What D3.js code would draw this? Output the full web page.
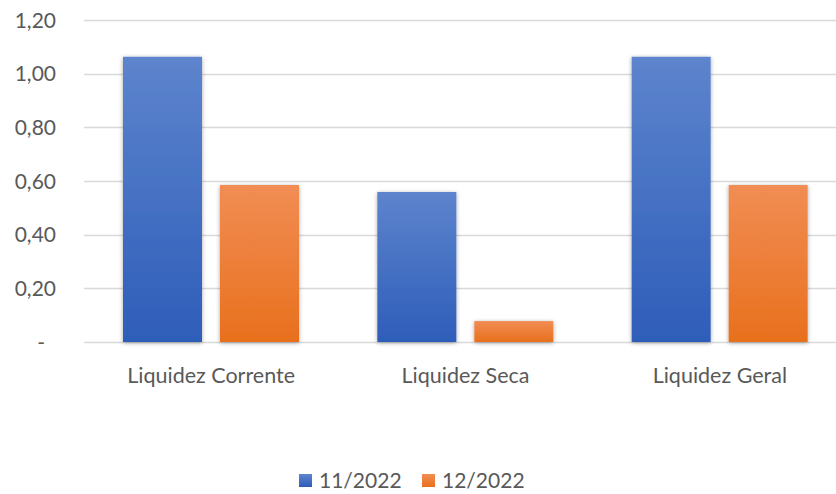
<!DOCTYPE html>
<html><head><meta charset="utf-8">
<script src="https://cdn.jsdelivr.net/npm/d3@7"></script>
<style>body{margin:0;background:#fff}svg{display:block}</style>
</head><body><svg id="c" width="836" height="494"></svg>
<script>
const categories = ["Liquidez Corrente", "Liquidez Seca", "Liquidez Geral"];
const seriesNames = ["11/2022", "12/2022"];
const values2022_11 = [1.063, 0.559, 1.063];
const values2022_12 = [0.585, 0.078, 0.585];
const yTicks = [0, 0.2, 0.4, 0.6, 0.8, 1.0, 1.2];

const svg = d3.select("#c");
const font = "Lato, 'Open Sans', sans-serif";
const textColor = "#595959";
const x = d3.scaleBand().domain(categories).range([84, 847]).paddingInner(0).paddingOuter(0);
const xs = d3.scaleBand().domain(seriesNames).range([39, 215]).paddingInner(18 / 97);
const y = d3.scaleLinear().domain([0, 1.2]).range([342, 20]);

const defs = svg.append("defs");
const grads = [["g0", "#5d84cd", "#2e5db9"], ["g1", "#f18d54", "#e8701d"]];
grads.forEach(([id, a, b]) => {
  const g = defs.append("linearGradient").attr("id", id).attr("x1", 0).attr("y1", 0).attr("x2", 0).attr("y2", 1);
  g.append("stop").attr("offset", "0%").attr("stop-color", a);
  g.append("stop").attr("offset", "100%").attr("stop-color", b);
});
const f = defs.append("filter").attr("id", "sh").attr("x", "-20%").attr("y", "-20%").attr("width", "140%").attr("height", "140%");
f.append("feDropShadow").attr("dx", 0).attr("dy", 1).attr("stdDeviation", 2.2).attr("flood-color", "#000").attr("flood-opacity", 0.35);

// gridlines
svg.append("g").selectAll("line").data(yTicks).join("line")
  .attr("x1", 84).attr("x2", 836)
  .attr("y1", d => Math.round(y(d)) + 0.5).attr("y2", d => Math.round(y(d)) + 0.5)
  .attr("stroke", "#d9d9d9").attr("stroke-width", 1.3);

// y labels
const fmt = d => d === 0 ? "-" : d.toFixed(2).replace(".", ",");
svg.append("g").selectAll("text").data(yTicks).join("text")
  .attr("x", d => d === 0 ? 45 : 56).attr("y", d => y(d) + 7.5)
  .attr("text-anchor", "end").attr("font-family", font).attr("font-size", 21)
  .attr("fill", textColor).text(fmt);

const series = [values2022_11, values2022_12];
series.forEach((vals, si) => {
  svg.append("g").selectAll("rect").data(categories).join("rect")
    .attr("x", (c) => x(c) + xs(seriesNames[si]))
    .attr("width", xs.bandwidth())
    .attr("y", (c, i) => y(vals[i]))
    .attr("height", (c, i) => y(0) - y(vals[i]))
    .attr("fill", `url(#g${si})`)
    .attr("filter", "url(#sh)");
});

// category labels
svg.append("g").selectAll("text").data(categories).join("text")
  .attr("x", c => x(c) + x.bandwidth() / 2).attr("y", 383)
  .attr("text-anchor", "middle").attr("font-family", font).attr("font-size", 21.5)
  .attr("fill", textColor).text(c => c);

// legend
const legX = [299, 422];
const legColors = ["url(#g0)", "url(#g1)"];
seriesNames.forEach((s, i) => {
  svg.append("rect").attr("x", legX[i]).attr("y", 474).attr("width", 13).attr("height", 13).attr("fill", legColors[i]);
  svg.append("text").attr("x", legX[i] + 20).attr("y", 488).attr("font-family", font).attr("font-size", 21)
    .attr("fill", textColor).text(s);
});
</script></body></html>
